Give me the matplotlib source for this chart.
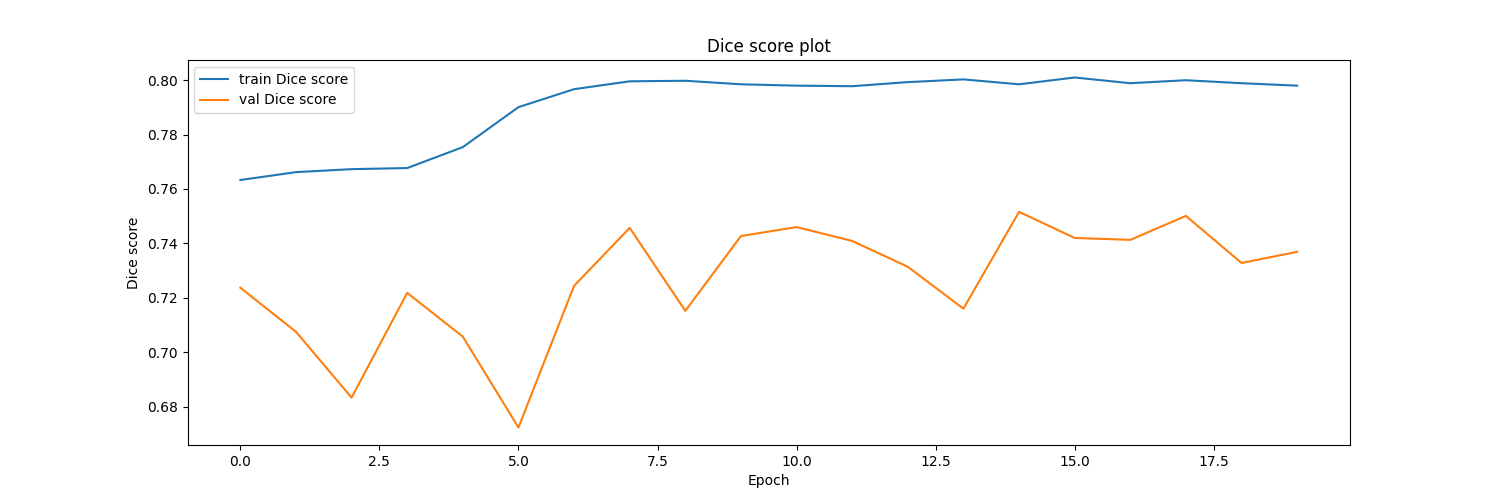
import matplotlib
matplotlib.use("Agg")
import matplotlib.pyplot as plt

epochs = list(range(20))
train_dice = [0.7633, 0.7662, 0.7673, 0.7677, 0.7754, 0.7901, 0.7967, 0.7996, 0.7998, 0.7985,
              0.7980, 0.7978, 0.7993, 0.8003, 0.7985, 0.8010, 0.7989, 0.8000, 0.7989, 0.7980]
val_dice = [0.7237, 0.7075, 0.6833, 0.7218, 0.7057, 0.6723, 0.7244, 0.7457, 0.7152, 0.7427,
            0.7460, 0.7409, 0.7314, 0.7160, 0.7516, 0.7420, 0.7413, 0.7501, 0.7328, 0.7369]

plt.figure(figsize=(15, 5), dpi=100)
plt.plot(epochs, train_dice, label='train Dice score')
plt.plot(epochs, val_dice, label='val Dice score')
plt.title('Dice score plot')
plt.xlabel('Epoch')
plt.ylabel('Dice score')
plt.legend()
plt.savefig('out.png')
